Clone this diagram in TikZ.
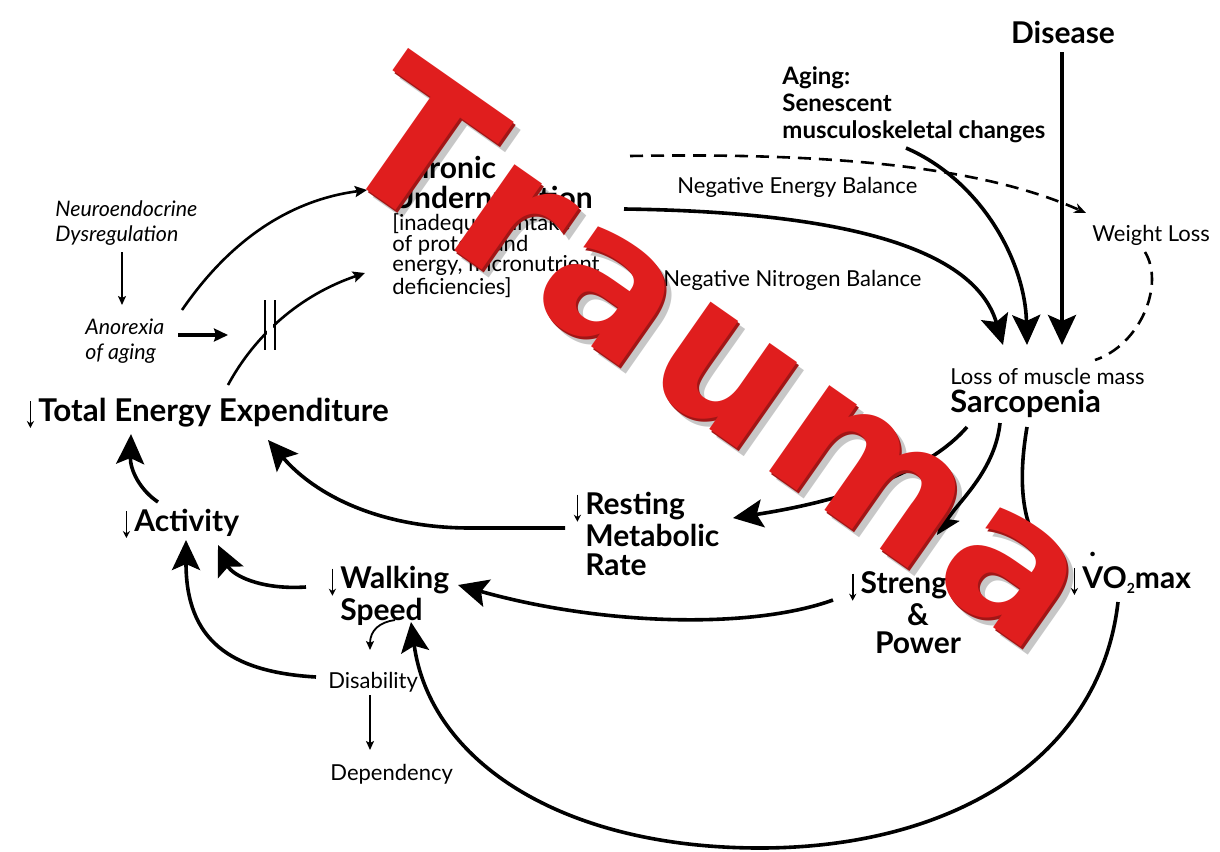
\documentclass[tikz,border=0pt]{standalone}
\usepackage{fontspec}
\setmainfont{Lato}
\newfontfamily\traumafont{DejaVu Sans}
\usetikzlibrary{arrows.meta}
\definecolor{tred}{RGB}{224,30,30}
\newcommand\dn{\llap{\tikz[baseline=0pt,x=1pt,y=1pt]\draw[line width=0.8pt,-{Stealth[length=3.5pt,width=3.6pt]}] (0,10)--(0,-3.5);\hspace{2.2pt}}}
\newcommand\vdotV{\rlap{\hspace{0.22em}\raisebox{1.05em}{.}}V}
\newcommand\trword{T\kern4pt r\kern4pt a\kern4pt u\kern4pt m\kern4pt a}
\begin{document}
\begin{tikzpicture}[x=0.5pt,y=-0.5pt,
  lbl/.style={inner sep=0pt, font=\bfseries\fontsize{15}{14.5}\selectfont},
  small/.style={inner sep=0pt, font=\fontsize{11}{10.4}\selectfont},
  ital/.style={inner sep=0pt, font=\itshape\fontsize{10.7}{12.5}\selectfont},
  big/.style={line width=1.8pt, -{Stealth[length=15pt,width=14pt,inset=3pt]}},
  mid/.style={line width=1.3pt, -{Stealth[length=6pt,width=5.5pt,inset=1pt]}},
  thin/.style={line width=0.9pt, -{Stealth[length=4.5pt,width=4pt,inset=1pt]}},
  dsh/.style={line width=1.3pt, dash pattern=on 6.5pt off 4pt},
  trauma/.style={inner sep=0pt, rotate=-35, font=\traumafont\bfseries\fontsize{96}{96}\selectfont},
]
\fill[white] (0,0) rectangle (1220,851);
\useasboundingbox (0,0) rectangle (1220,851);

% ---------- nodes ----------
\node[lbl, anchor=base] (disease) at (1063,43) {Disease};
\node[inner sep=0pt, font=\bfseries\fontsize{12}{13.5}\selectfont, align=left, anchor=north west] (aging) at (782,66) {Aging:\\Senescent\\musculoskeletal changes};
\node[lbl, font=\bfseries\fontsize{15}{15}\selectfont, align=left, anchor=north west] (chronic) at (392,156) {Chronic\\Undernutrition};
\node[small, align=left, anchor=north west] (inad) at (392,213) {[inadequate intake\\of protein and\\energy, micronutrient\\deficiencies]};
\node[small, anchor=base west] (neb) at (677,193) {Negative Energy Balance};
\node[small, anchor=base west] (nnb) at (663,286) {Negative Nitrogen Balance};
\node[small, anchor=base west] (wl) at (1092,241) {Weight Loss};
\node[small, anchor=base west] (loss) at (950,384) {Loss of muscle mass};
\node[lbl, font=\bfseries\fontsize{15.4}{15}\selectfont, anchor=base west] (sarc) at (950,412) {Sarcopenia};
\node[ital, align=left, anchor=north west] (neuro) at (55,200) {Neuroendocrine\\Dysregulation};
\node[ital, align=left, anchor=north west] (anor) at (85,318) {Anorexia\\of aging};
\node[lbl, font=\bfseries\fontsize{15.7}{15}\selectfont, anchor=base west] (tee) at (38,421) {\dn Total Energy Expenditure};
\node[lbl, anchor=base west] (act) at (134,531) {\dn Activity};
\node[lbl, align=left, anchor=north west] (rmr) at (585,492) {\dn Resting\\Metabolic\\Rate};
\node[lbl, font=\bfseries\fontsize{15}{13.5}\selectfont, align=left, anchor=north west] (walk) at (340,566) {\dn Walking\\Speed};
\node[lbl, font=\bfseries\fontsize{15}{14}\selectfont, align=center, anchor=north] (str) at (918,571) {\dn Strength\\\&\\Power};
\node[lbl, anchor=base west] (vo2) at (1082,588) {\dn\vdotV O\raisebox{-0.18em}{\fontsize{7}{7}\selectfont 2}max};
\node[small, anchor=base west] (dis) at (328,688) {Disability};
\node[small, anchor=base west] (dep) at (330,780) {Dependency};

% ---------- connector ends ----------
\coordinate (c-ch-out) at (624,209);
\coordinate (c-sar-in1) at (1003,345);
\coordinate (c-ag-out) at (906,148);
\coordinate (c-sar-in2) at (1027,345);
\coordinate (c-dis-out) at (1062,52);
\coordinate (c-sar-in3) at (1062,345);
\coordinate (c-dash-s) at (630,156);
\coordinate (c-wl-in) at (1086,213);
\coordinate (c-wl-out) at (1145,252);
\coordinate (c-loss-in) at (1095,360);
\coordinate (c-sar-o1) at (967,427);
\coordinate (c-rmr-in) at (733,518);
\coordinate (c-sar-o2) at (1000,423);
\coordinate (c-str-in) at (937,535);
\coordinate (c-sar-o3) at (1027,427);
\coordinate (c-vo-in) at (1063,572);
\coordinate (c-rmr-out) at (565,528);
\coordinate (c-tee-in1) at (268,440);
\coordinate (c-act-out) at (158,502);
\coordinate (c-tee-in2) at (131,434);
\coordinate (c-walk-o1) at (306,587);
\coordinate (c-act-in1) at (218,545);
\coordinate (c-dis-o1) at (316,677);
\coordinate (c-act-in2) at (186,540);
\coordinate (c-sp-out) at (395,620);
\coordinate (c-dis-in) at (370,650);
\coordinate (c-dis-o2) at (370,695);
\coordinate (c-dep-in) at (370,750);
\coordinate (c-str-out) at (833,600);
\coordinate (c-walk-in1) at (458,585);
\coordinate (c-vo-out) at (1118,602);
\coordinate (c-walk-in2) at (411,622);
\coordinate (c-an-o1) at (182,310);
\coordinate (c-ch-in1) at (367,190);
\coordinate (c-tee-out) at (228,385);
\coordinate (c-ch-in2) at (365,273);
\coordinate (c-an-o2) at (178,335);
\coordinate (c-bar) at (228,335);
\coordinate (c-neu-out) at (122,252);
\coordinate (c-an-in) at (122,305);

% ---------- connectors ----------
\draw[big] (c-ch-out) .. controls (850,212) and (975,250) .. (c-sar-in1);
\draw[big] (c-ag-out) .. controls (980,180) and (1025,260) .. (c-sar-in2);
\draw[big] (c-dis-out) -- (c-sar-in3);
\draw[dsh, -{Stealth[length=6pt,width=5pt]}] (c-dash-s) .. controls (850,152) and (990,170) .. (c-wl-in);
\draw[dsh] (c-wl-out) .. controls (1165,285) and (1140,345) .. (c-loss-in);
\draw[big] (c-sar-o1) .. controls (930,470) and (850,500) .. (c-rmr-in);
\draw[big, -{Stealth[length=12pt,width=11pt,inset=2.5pt]}] (c-sar-o2) .. controls (995,470) and (960,500) .. (c-str-in);
\draw[big, -{Stealth[length=12pt,width=11pt,inset=2.5pt]}] (c-sar-o3) .. controls (1018,480) and (1020,530) .. (c-vo-in);
\draw[big] (c-rmr-out) -- (470,528) .. controls (380,528) and (315,495) .. (c-tee-in1);
\draw[big] (c-act-out) .. controls (140,490) and (130,470) .. (c-tee-in2);
\draw[big] (c-walk-o1) .. controls (260,590) and (232,575) .. (c-act-in1);
\draw[big] (c-dis-o1) .. controls (230,672) and (186,640) .. (c-act-in2);
\draw[thin] (c-sp-out) .. controls (380,622) and (370,630) .. (c-dis-in);
\draw[thin] (c-dis-o2) -- (c-dep-in);
\draw[big] (c-str-out) .. controls (750,630) and (600,625) .. (c-walk-in1);
\draw[big] (c-vo-out) .. controls (1100,760) and (950,848) .. (760,848) .. controls (560,848) and (430,760) .. (c-walk-in2);
\draw[mid] (c-an-o1) .. controls (230,240) and (290,200) .. (c-ch-in1);
\draw[mid] (c-tee-out) .. controls (255,335) and (300,295) .. (c-ch-in2);
\fill[white] (267,296) rectangle (273,354);
\draw[line width=1.4pt] (265,300) -- (265,350) (275,300) -- (275,350);
\draw[line width=1.6pt, -{Stealth[length=7pt,width=6.5pt,inset=1pt]}] (c-an-o2) -- (c-bar);
\draw[thin] (c-neu-out) -- (c-an-in);

% ---------- overlay ----------
\node[trauma, text=black, opacity=0.22] at (727,361) {\trword};
\node[trauma, text=tred!72!black] at (722,356) {\trword};
\node[trauma, text=tred] (trauma) at (720,353) {\trword};
\end{tikzpicture}
\end{document}
